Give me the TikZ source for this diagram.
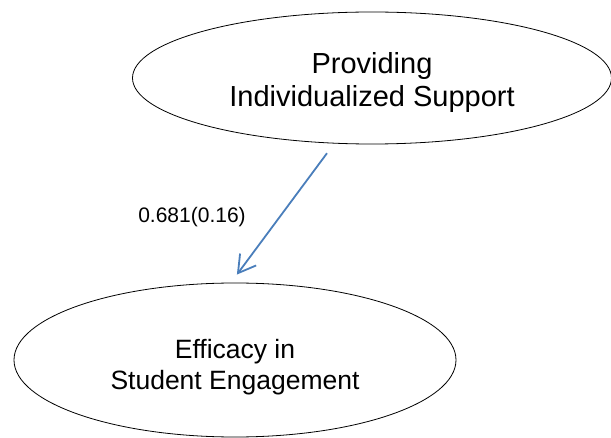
\documentclass[tikz,border=0pt]{standalone}
\usepackage{fontspec}
\setmainfont{Liberation Sans}
\usepackage{tikz}
\usetikzlibrary{shapes.geometric, positioning, arrows.meta}
\definecolor{pathBlue}{RGB}{74,126,187}

\begin{document}
\begin{tikzpicture}[
  x=1pt, y=-1pt,
  latent/.style={draw=black, line width=0.8pt, ellipse, inner sep=0pt, align=center},
  path arrow/.style={-{Straight Barb[length=17pt, width=20pt, line width=1.8pt]}, line width=1.8pt, pathBlue},
  coef/.style={font=\fontsize{21}{24}\selectfont}
]
  \useasboundingbox (0,0) rectangle (611,438);

  \node[latent, font=\fontsize{29}{33}\selectfont, minimum width=479pt, minimum height=132pt] (support) at (372,78)
    {\rule{0pt}{29.1pt}Providing\\Individualized Support};
  \node[latent, font=\fontsize{26.5}{31}\selectfont, minimum width=442pt, minimum height=154pt] (efficacy) at (235,360)
    {\rule{0pt}{32.6pt}Efficacy in\\Student Engagement};

  \draw[path arrow, shorten <=12pt, shorten >=10pt] (support.240) -- (efficacy.93);
  \node[coef] (coefA) at (192,217) {0.681(0.16)};
\end{tikzpicture}
\end{document}
